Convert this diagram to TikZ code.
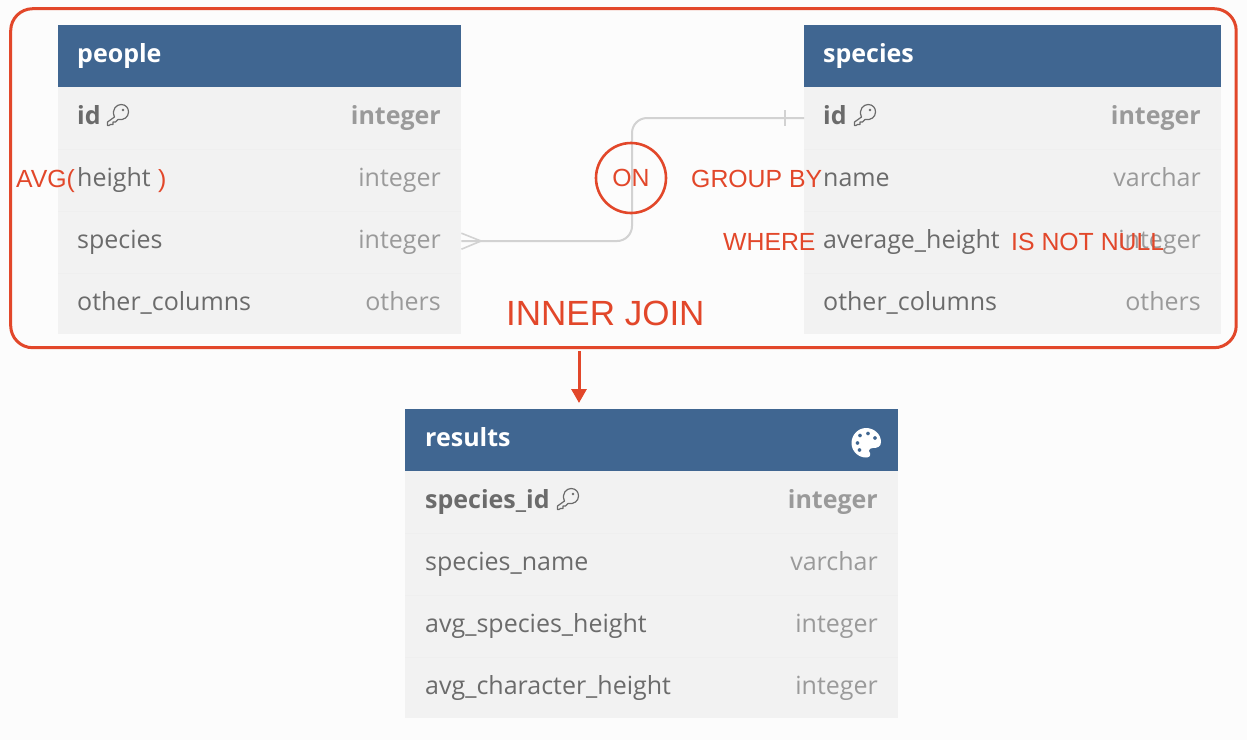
\documentclass[tikz,border=0pt]{standalone}
\usepackage{fontspec}
\setmainfont{Open Sans}
\newfontfamily\redfont{Liberation Sans}
\usetikzlibrary{arrows.meta}
\definecolor{pagebg}{HTML}{FCFCFC}
\definecolor{headblue}{HTML}{406691}
\definecolor{rowbg}{HTML}{F2F2F2}
\definecolor{rowsep}{HTML}{EFEFEF}
\definecolor{namecol}{HTML}{6B6B6B}
\definecolor{typecol}{HTML}{9A9A9A}
\definecolor{redmark}{HTML}{E2472A}
\definecolor{linkcol}{HTML}{D2D2D2}
\tikzset{
  x=1pt,y=-1pt,
  headbox/.style={fill=headblue,draw=none,inner sep=0pt,minimum height=62pt,anchor=north west},
  rowbox/.style={fill=rowbg,draw=none,inner sep=0pt,minimum height=62pt,anchor=north west},
  headtxt/.style={text=white,font=\fontsize{25}{25}\selectfont\bfseries,anchor=base west,inner sep=0pt},
  nametxt/.style={text=namecol,font=\fontsize{25}{25}\selectfont,anchor=base west,inner sep=0pt},
  typetxt/.style={text=typecol,font=\fontsize{25}{25}\selectfont,anchor=base east,inner sep=0pt},
  boldname/.style={nametxt,font=\fontsize{25}{25}\selectfont\bfseries},
  boldtype/.style={typetxt,font=\fontsize{25}{25}\selectfont\bfseries},
  redtxt/.style={text=redmark,font=\redfont\fontsize{24.8}{24.8}\selectfont,anchor=base west,inner sep=0pt},
  sepline/.style={draw=rowsep,line width=.8pt},
  linkline/.style={draw=linkcol,line width=2pt},
  redline/.style={draw=redmark,line width=3pt},
}
\newcommand{\keyicon}[2]{%
  \begin{scope}[shift={(#1,#2)}]
    \draw[draw=namecol,line width=1.2pt,line join=round]
      (6.5,-5) .. controls (3,-13) and (9,-17.5) .. (13,-17.5)
      .. controls (18,-17.5) and (20.5,-14) .. (20.5,-10)
      .. controls (20.5,-5) and (16,-1.5) .. (10,-2.5)
      -- (7.5,0) -- (5,0) -- (5,2.5) -- (2.5,2.5) -- (1,3.5) -- (-.5,3.5) -- (-.5,0) -- cycle;
    \fill[namecol] (15,-12) circle (1.4);
  \end{scope}}
\begin{document}
\begin{tikzpicture}
\useasboundingbox[fill=pagebg] (0,0) rectangle (1247,740);

% people
\node[headbox,minimum width=403pt] (pH) at (58,25) {};
\node[rowbox,minimum width=403pt] (p1) at (58,87) {};
\node[rowbox,minimum width=403pt] (p2) at (58,149) {};
\node[rowbox,minimum width=403pt] (p3) at (58,211) {};
\node[rowbox,minimum width=403pt,minimum height=61pt] (p4) at (58,273) {};
\draw[sepline] (p2.north west) -- (p2.north east);
\draw[sepline] (p3.north west) -- (p3.north east);
\draw[sepline] (p4.north west) -- (p4.north east);
\node[headtxt] (pHt) at (77,62) {people};
\node[boldname] (p1n) at (77,124) {id};
\keyicon{108}{122}
\node[boldtype] (p1t) at (441,124) {integer};
\node[nametxt] (p2n) at (77,186) {height};
\node[typetxt] (p2t) at (441,186) {integer};
\node[nametxt] (p3n) at (77,248) {species};
\node[typetxt] (p3t) at (441,248) {integer};
\node[nametxt] (p4n) at (77,310) {other\_columns};
\node[typetxt] (p4t) at (441,310) {others};

% species
\node[headbox,minimum width=417pt] (sH) at (804,25) {};
\node[rowbox,minimum width=417pt] (s1) at (804,87) {};
\node[rowbox,minimum width=417pt] (s2) at (804,149) {};
\node[rowbox,minimum width=417pt] (s3) at (804,211) {};
\node[rowbox,minimum width=417pt,minimum height=61pt] (s4) at (804,273) {};
\draw[sepline] (s2.north west) -- (s2.north east);
\draw[sepline] (s3.north west) -- (s3.north east);
\draw[sepline] (s4.north west) -- (s4.north east);
\node[headtxt] (sHt) at (823,62) {species};
\node[boldname] (s1n) at (823,124) {id};
\keyicon{855}{122}
\node[boldtype] (s1t) at (1201,124) {integer};
\node[nametxt] (s2n) at (823,186) {name};
\node[typetxt] (s2t) at (1201,186) {varchar};
\node[nametxt] (s3n) at (823,248) {average\_height};
\node[typetxt] (s3t) at (1201,248) {integer};
\node[nametxt] (s4n) at (823,310) {other\_columns};
\node[typetxt] (s4t) at (1201,310) {others};

% results
\node[headbox,minimum width=493pt] (rH) at (405,409) {};
\node[rowbox,minimum width=493pt] (r1) at (405,471) {};
\node[rowbox,minimum width=493pt] (r2) at (405,533) {};
\node[rowbox,minimum width=493pt] (r3) at (405,595) {};
\node[rowbox,minimum width=493pt,minimum height=61pt] (r4) at (405,657) {};
\draw[sepline] (r2.north west) -- (r2.north east);
\draw[sepline] (r3.north west) -- (r3.north east);
\draw[sepline] (r4.north west) -- (r4.north east);
\node[headtxt] (rHt) at (425,446) {results};
\node[boldname] (r1n) at (425,508) {species\_id};
\keyicon{558}{506}
\node[boldtype] (r1t) at (878,508) {integer};
\node[nametxt] (r2n) at (425,570) {species\_name};
\node[typetxt] (r2t) at (878,570) {varchar};
\node[nametxt] (r3n) at (425,632) {avg\_species\_height};
\node[typetxt] (r3t) at (878,632) {integer};
\node[nametxt] (r4n) at (425,694) {avg\_character\_height};
\node[typetxt] (r4t) at (878,694) {integer};

% palette icon
\fill[white,even odd rule]
  (866,428) .. controls (874,428) and (881,434) .. (881,442)
  .. controls (881,447) and (877,448) .. (873,448)
  .. controls (869,448) and (868,451) .. (870,453)
  .. controls (871,456) and (869,457.5) .. (866,457.5)
  .. controls (858,457.5) and (851.5,451) .. (851.5,443)
  .. controls (851.5,435) and (858,428) .. (866,428) -- cycle
  (857.5,443) circle (2) (860,435.5) circle (2) (868,433.5) circle (2) (875,438) circle (2) (859.5,450) circle (2);

% connector
\draw[linkline,rounded corners=15pt] ([yshift=1pt]p3.east) -- (632,241) -- (632,118) -- (s1.west);
\coordinate (footTip) at (481,241);
\draw[linkline,line width=1.6pt] ([yshift=9pt]p3.east) -- (footTip) -- ([yshift=-7pt]p3.east);
\coordinate (barTop) at (785,110);
\coordinate (barBot) at (785,126);
\draw[linkline,line width=1.6pt] (barTop) -- (barBot);

% red marks
\node[draw=redmark,line width=2.6pt,circle,minimum size=70pt,inner sep=0pt,outer sep=0pt,text=redmark,font=\redfont\fontsize{24.8}{24.8}\selectfont] (on) at (631,178) {ON};
\node[redtxt] (avg) at (16,187) {AVG(};
\node[redtxt] (close) at (158,187) {)};
\node[redtxt] (grp) at (691,187) {GROUP BY};
\node[redtxt] (whr) at (723,250) {WHERE};
\node[redtxt] (nn) at (1011,250) {IS NOT NULL};
\node[redtxt,font=\redfont\fontsize{35}{35}\selectfont] (ij) at (506,325) {INNER JOIN};
\node[redline,rounded corners=22pt,inner sep=0pt,outer sep=0pt,minimum width=1225.5pt,minimum height=339pt,anchor=north west] (outer) at (10.7,8.7) {};
\coordinate (arrS) at (579,351);
\draw[redmark,line width=3pt,-{Triangle[length=14pt,width=15pt]}] (arrS) -- (579,403);
\end{tikzpicture}
\end{document}
